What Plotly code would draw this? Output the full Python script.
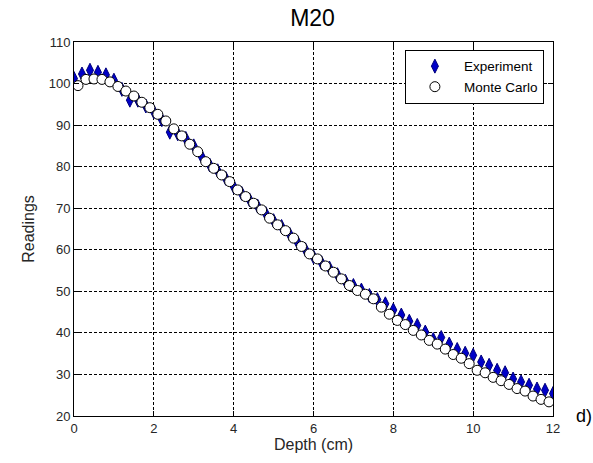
import plotly.graph_objects as go

# Experiment: depth 0..12 cm step 0.2
exp_depth = [round(0.2 * i, 1) for i in range(61)]
exp_read = [101.2, 102.3, 103.2, 102.7, 102.1, 100.8, 98.6, 96.0, 96.0, 94.6,
            93.2, 91.3, 88.3, 87.9, 86.8, 85.0, 82.4, 80.4, 79.0, 77.2,
            75.2, 73.6, 72.0, 70.5, 68.8, 67.0, 65.6, 63.8, 61.8, 60.0,
            58.3, 56.9, 55.6, 54.0, 52.4, 51.4, 50.3, 49.0, 48.0, 47.0,
            45.5, 44.3, 42.8, 41.8, 40.2, 38.4, 38.9, 37.3, 36.0, 35.1,
            34.6, 33.0, 32.2, 31.0, 30.4, 28.9, 28.2, 27.4, 26.5, 26.2,
            25.4]

# Monte Carlo: depth 0.1..11.9 cm step 0.2
mc_depth = [round(0.1 + 0.2 * i, 1) for i in range(60)]
mc_read = [99.5, 101.0, 101.1, 101.0, 100.4, 99.3, 98.2, 97.0, 95.5, 94.2,
           92.6, 91.0, 89.1, 87.4, 85.4, 83.6, 81.2, 79.6, 78.0, 76.4,
           74.4, 72.8, 71.2, 69.6, 67.6, 66.0, 64.6, 62.8, 60.8, 59.0,
           57.8, 56.1, 54.6, 53.0, 51.4, 50.2, 49.3, 48.2, 46.2, 44.5,
           43.0, 42.0, 40.6, 39.5, 38.2, 37.3, 36.1, 34.8, 33.9, 32.6,
           31.0, 30.4, 29.3, 28.5, 27.6, 26.6, 26.0, 24.8, 24.0, 23.4]

FONT = "Liberation Sans, Arial, sans-serif"

fig = go.Figure()
fig.add_trace(go.Scatter(
    x=exp_depth, y=exp_read, mode="markers", name="Experiment",
    marker=dict(symbol="diamond-tall", size=10, color="#0000c8",
                line=dict(color="#00007a", width=1))))
fig.add_trace(go.Scatter(
    x=mc_depth, y=mc_read, mode="markers", name="Monte Carlo",
    marker=dict(symbol="circle", size=10, color="white",
                line=dict(color="black", width=1))))

axis_common = dict(
    showline=True, linecolor="black", linewidth=1, mirror="ticks",
    ticks="inside", ticklen=5, tickcolor="black",
    showgrid=True, gridcolor="black", gridwidth=1, griddash="3px,2px",
    zeroline=False,
    tickfont=dict(family=FONT, size=13, color="#262626"),
)

fig.update_xaxes(range=[0, 12], dtick=2, tick0=0,
                 title=dict(text="Depth (cm)", font=dict(family=FONT, size=16, color="#262626"), standoff=2),
                 **axis_common)
fig.update_yaxes(range=[20, 110], dtick=10, tick0=20,
                 title=dict(text="Readings", font=dict(family=FONT, size=16, color="#262626"), standoff=10),
                 **axis_common)

fig.update_layout(
    width=593, height=463,
    margin=dict(l=74, r=40, t=42, b=47),
    paper_bgcolor="white", plot_bgcolor="white",
    title=dict(text="M20", x=0.527, xanchor="center", y=1 - 18 / 463, yanchor="middle",
               yref="container", font=dict(family=FONT, size=23, color="black")),
    legend=dict(x=0.981, xanchor="right", y=0.979, yanchor="top",
                bgcolor="white", bordercolor="black", borderwidth=1,
                font=dict(family=FONT, size=13.5, color="black"),
                itemwidth=48, tracegroupgap=0),
    showlegend=True,
    annotations=[dict(text="d)", xref="paper", yref="paper", x=1.044, y=0.0,
                      xanchor="left", yanchor="middle", showarrow=False,
                      font=dict(family=FONT, size=18, color="black"))],
)

fig.write_html("out.html")
